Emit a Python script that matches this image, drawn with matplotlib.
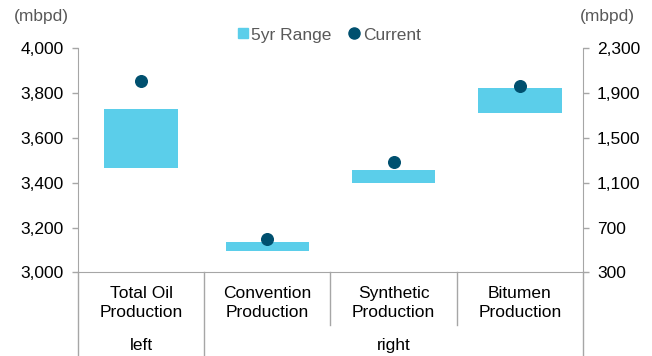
"""
Oil production vs 5-year range: total on left axis, components on right axis.
"""

import matplotlib

matplotlib.use("Agg")
import matplotlib.pyplot as plt
from matplotlib.lines import Line2D

plt.rcParams["font.family"] = ["Liberation Sans", "DejaVu Sans"]

CATEGORIES = ["Total Oil\nProduction", "Convention\nProduction",
              "Synthetic\nProduction", "Bitumen\nProduction"]
RANGE_LOW = [3466, 490, 1096, 1722]
RANGE_HIGH = [3728, 572, 1213, 1951]
CURRENT = [3855, 600, 1285, 1963]
LEFT_TICKS = [3000, 3200, 3400, 3600, 3800, 4000]
RIGHT_TICKS = [300, 700, 1100, 1500, 1900, 2300]

BAR_COLOR = "#5BCEEA"
DOT_COLOR = "#00506F"
GRID_GRAY = "#A6A6A6"
TEXT_GRAY = "#595959"
FS = 12.5

fig = plt.figure(figsize=(6.52, 3.56), dpi=100)
ax = fig.add_axes([0.1196, 0.2346, 0.7746, 0.6292])
ax2 = ax.twinx()

xs = list(range(len(CATEGORIES)))

# total oil on the left axis
ax.bar(xs[0], RANGE_HIGH[0] - RANGE_LOW[0], bottom=RANGE_LOW[0], width=0.58,
       color=BAR_COLOR, zorder=2)
ax.scatter(xs[0], CURRENT[0], s=70, color=DOT_COLOR, zorder=3)

# components on the right axis
heights = [h - l for h, l in zip(RANGE_HIGH[1:], RANGE_LOW[1:])]
ax2.bar(xs[1:], heights, bottom=RANGE_LOW[1:], width=0.66, color=BAR_COLOR, zorder=2)
ax2.scatter(xs[1:], CURRENT[1:], s=70, color=DOT_COLOR, zorder=3)

ax.set_xlim(-0.5, 3.5)
ax.set_ylim(LEFT_TICKS[0], LEFT_TICKS[-1])
ax2.set_ylim(RIGHT_TICKS[0], RIGHT_TICKS[-1])
ax.set_yticks(LEFT_TICKS)
ax.set_yticklabels([f"{v:,}" for v in LEFT_TICKS], fontsize=FS)
ax2.set_yticks(RIGHT_TICKS)
ax2.set_yticklabels([f"{v:,}" for v in RIGHT_TICKS], fontsize=FS)
ax.set_xticks(xs)
ax.set_xticklabels(CATEGORIES, fontsize=FS, linespacing=1.3)
ax.tick_params(axis="x", length=0, pad=10)
ax.tick_params(axis="y", length=4, color=GRID_GRAY, width=1, pad=6)
ax2.tick_params(axis="y", length=4, color=GRID_GRAY, width=1, pad=6)

for a in (ax, ax2):
    a.spines["top"].set_visible(False)
    for side in ("left", "right", "bottom"):
        a.spines[side].set_color(GRID_GRAY)
ax.spines["right"].set_visible(False)
ax2.spines["left"].set_visible(False)
ax2.spines["bottom"].set_visible(False)

# category dividers below the axis
for xpos, ybot in [(0.0, -0.38), (0.25, -0.38), (0.5, -0.235), (0.75, -0.235), (1.0, -0.38)]:
    ax.add_line(Line2D([xpos, xpos], [0, ybot], transform=ax.transAxes,
                       color=GRID_GRAY, linewidth=1, clip_on=False))

ax.text(0.125, -0.325, "left", transform=ax.transAxes, ha="center", va="center", fontsize=FS)
ax.text(0.625, -0.325, "right", transform=ax.transAxes, ha="center", va="center", fontsize=FS)

fig.text(14 / 652, 1 - 17 / 356, "(mbpd)", ha="left", va="center", fontsize=FS, color=TEXT_GRAY)
fig.text(635 / 652, 1 - 17 / 356, "(mbpd)", ha="right", va="center", fontsize=FS, color=TEXT_GRAY)

handles = [
    Line2D([], [], linestyle="none", marker="s", markersize=6.5, color=BAR_COLOR, label="5yr Range"),
    Line2D([], [], linestyle="none", marker="o", markersize=8, color=DOT_COLOR, label="Current"),
]
leg = fig.legend(handles=handles, loc="center", bbox_to_anchor=(0.505, 1 - 35 / 356), ncol=2,
                 frameon=False, fontsize=FS, handlelength=0.6, handletextpad=0.2,
                 columnspacing=1.0, borderaxespad=0)
for t in leg.get_texts():
    t.set_color(TEXT_GRAY)

fig.savefig("out.png", dpi=100)
